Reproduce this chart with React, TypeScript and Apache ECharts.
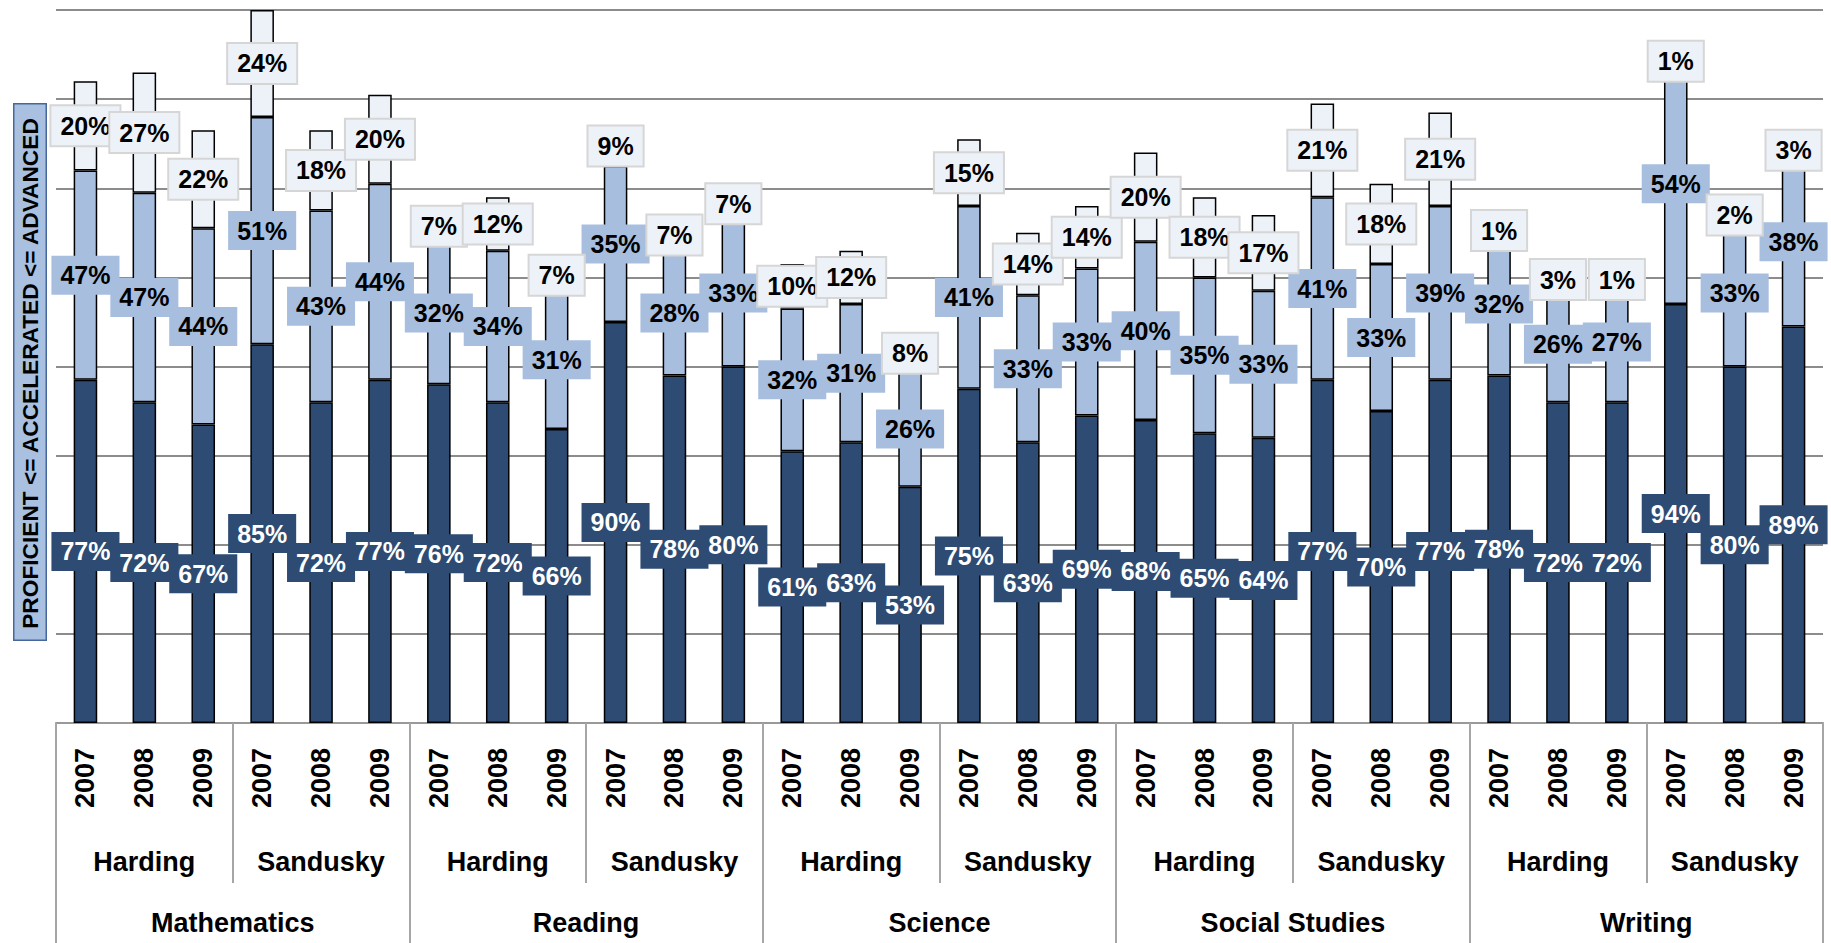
import React, { useEffect, useRef } from "react";
import * as echarts from "echarts";

const years = [
  "2007", "2008", "2009", "2007", "2008", "2009",
  "2007", "2008", "2009", "2007", "2008", "2009",
  "2007", "2008", "2009", "2007", "2008", "2009",
  "2007", "2008", "2009", "2007", "2008", "2009",
  "2007", "2008", "2009", "2007", "2008", "2009",
];
const schools = [
  "Harding", "Sandusky", "Harding", "Sandusky", "Harding",
  "Sandusky", "Harding", "Sandusky", "Harding", "Sandusky",
];
const subjects = ["Mathematics", "Reading", "Science", "Social Studies", "Writing"];

const proficient = [
  77, 72, 67, 85, 72, 77,
  76, 72, 66, 90, 78, 80,
  61, 63, 53, 75, 63, 69,
  68, 65, 64, 77, 70, 77,
  78, 72, 72, 94, 80, 89,
];
const accelerated = [
  47, 47, 44, 51, 43, 44,
  32, 34, 31, 35, 28, 33,
  32, 31, 26, 41, 33, 33,
  40, 35, 33, 41, 33, 39,
  32, 26, 27, 54, 33, 38,
];
const advanced = [
  20, 27, 22, 24, 18, 20,
  7, 12, 7, 9, 7, 7,
  10, 12, 8, 15, 14, 14,
  20, 18, 17, 21, 18, 21,
  1, 3, 1, 1, 2, 3,
];

const yTitle = "PROFICIENT <= ACCELERATED <= ADVANCED";

const FONT = "'Liberation Sans', Arial, sans-serif";
const DARK = "#2d4b73";
const LIGHT = "#a7bedf";
const PALE = "#edf2f9";

export default function App() {
  const ref = useRef<HTMLDivElement>(null);
  useEffect(() => {
    document.body.style.margin = "0";
    const chart = echarts.init(ref.current!, undefined, { renderer: "svg" });
    const labelBase = {
      show: true,
      position: "inside" as const,
      formatter: "{c}%",
      fontFamily: FONT,
      fontSize: 25,
      fontWeight: "bold" as const,
      padding: [7, 9, 7, 9],
    };
    const barBase = {
      type: "bar" as const,
      stack: "total",
      barWidth: "40%",
      xAxisIndex: 0,
      yAxisIndex: 0,
    };
    const axisLabelBase = {
      fontFamily: FONT,
      fontWeight: "bold" as const,
      color: "#000",
      interval: 0,
    };
    chart.setOption({
      animation: false,
      backgroundColor: "#fff",
      grid: { left: 56, right: 8, top: 10, bottom: 220, containLabel: false },
      xAxis: [
        {
          type: "category",
          position: "bottom",
          data: years,
          axisLine: { show: true, lineStyle: { color: "#999", width: 2 } },
          axisTick: { show: false },
          axisLabel: { ...axisLabelBase, rotate: 90, margin: 25, fontSize: 27 },
        },
        {
          type: "category",
          position: "bottom",
          data: schools,
          axisLine: { show: false },
          axisTick: {
            show: true,
            interval: 0,
            length: 160,
            lineStyle: { color: "#a6a6a6", width: 2 },
          },
          axisLabel: { ...axisLabelBase, margin: 124, fontSize: 27, lineHeight: 30 },
          splitLine: { show: false },
        },
        {
          type: "category",
          position: "bottom",
          data: subjects,
          axisLine: { show: false },
          axisTick: {
            show: true,
            interval: 0,
            length: 220,
            lineStyle: { color: "#a6a6a6", width: 2 },
          },
          axisLabel: { ...axisLabelBase, margin: 185, fontSize: 27, lineHeight: 30 },
          splitLine: { show: false },
        },
      ],
      yAxis: {
        type: "value",
        min: 0,
        max: 160,
        interval: 20,
        axisLabel: { show: false },
        axisLine: { show: false },
        axisTick: { show: false },
        splitLine: { show: true, lineStyle: { color: "#8c8c8c", width: 2 } },
        name: "{t|" + yTitle + "}",
        nameLocation: "middle",
        nameRotate: 90,
        nameGap: 13,
        nameTextStyle: {
          padding: [0, 11, 0, 0],
          rich: {
            t: {
              fontFamily: FONT,
              fontSize: 22.7,
              fontWeight: "bold",
              color: "#000",
              backgroundColor: "#a9c0e0",
              borderColor: "#46679a",
              borderWidth: 1.5,
              lineHeight: 26,
              padding: [4, 13, 4, 10],
            },
          },
        },
      },
      series: [
        {
          ...barBase,
          name: "Proficient",
          data: proficient,
          itemStyle: { color: DARK, borderColor: "#000", borderWidth: 1.5 },
          label: { ...labelBase, color: "#fff", backgroundColor: DARK },
        },
        {
          ...barBase,
          name: "Accelerated",
          data: accelerated,
          itemStyle: { color: LIGHT, borderColor: "#000", borderWidth: 1.5 },
          label: { ...labelBase, color: "#000", backgroundColor: LIGHT },
        },
        {
          ...barBase,
          name: "Advanced",
          data: advanced,
          itemStyle: { color: PALE, borderColor: "#000", borderWidth: 1.5 },
          label: {
            ...labelBase,
            color: "#000",
            backgroundColor: PALE,
            borderColor: "#d6d6d6",
            borderWidth: 2,
          },
        },
      ],
    });
    return () => chart.dispose();
  }, []);
  return <div ref={ref} style={{ width: 1831, height: 943 }} />;
}
